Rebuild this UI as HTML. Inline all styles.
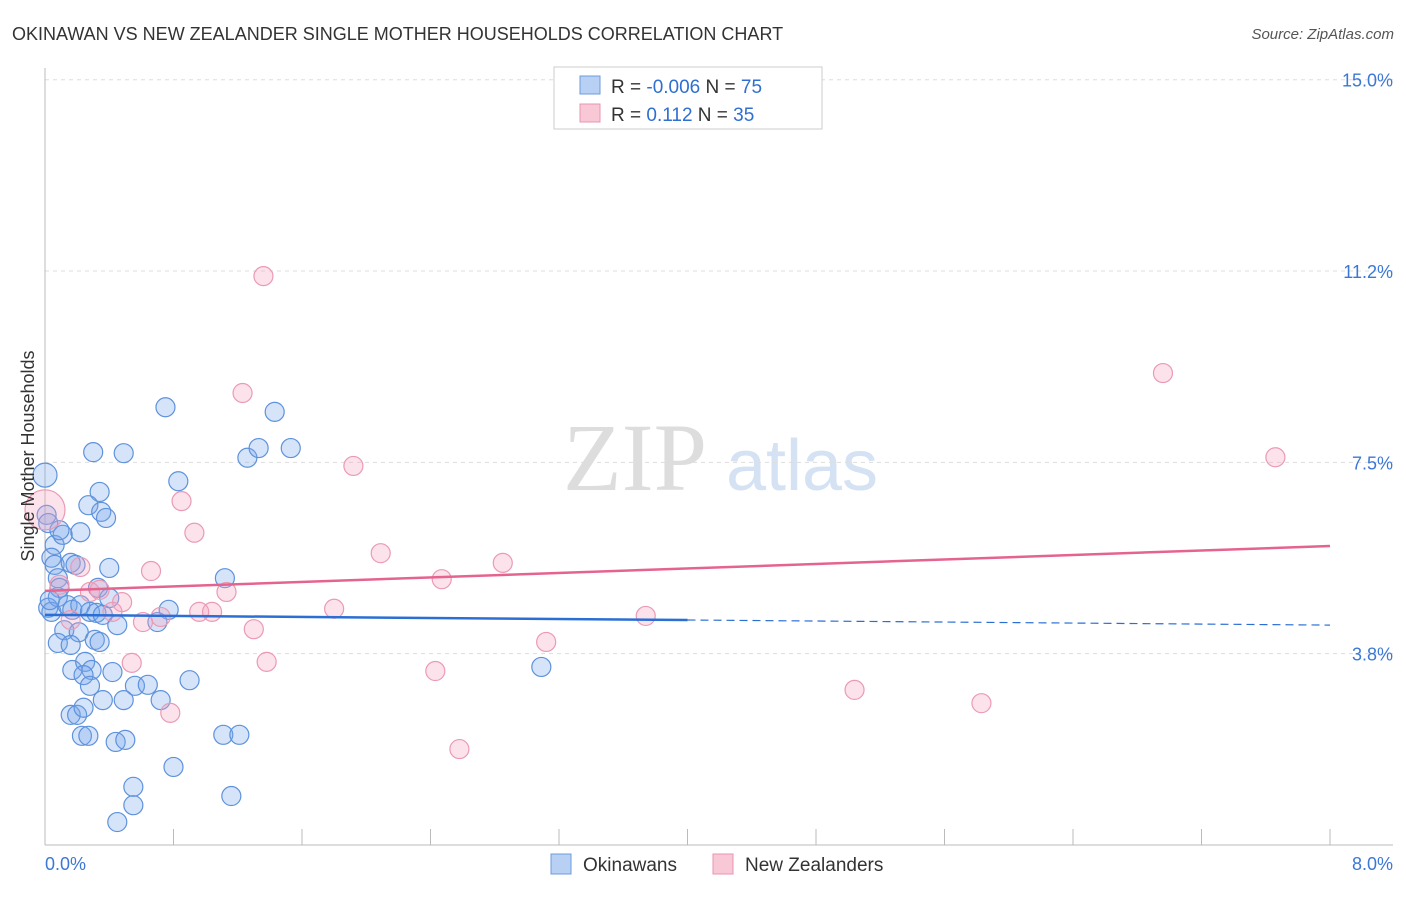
<!DOCTYPE html>
<html><head><meta charset="utf-8"><style>
body{margin:0;background:#fff;font-family:"Liberation Sans",sans-serif;}
svg text{font-family:"Liberation Sans",sans-serif;}
</style></head><body>
<svg id="chart" width="1406" height="892" xmlns="http://www.w3.org/2000/svg">
<text x="12" y="40" font-size="18" fill="#333">OKINAWAN VS NEW ZEALANDER SINGLE MOTHER HOUSEHOLDS CORRELATION CHART</text>
<text x="1394" y="39" font-size="15" fill="#555" font-style="italic" text-anchor="end">Source: ZipAtlas.com</text>
<g>
<text x="635" y="490" font-size="96" fill="#ddd" font-family="Liberation Serif" text-anchor="middle" style="font-family:'Liberation Serif',serif">ZIP</text>
<text x="802" y="490" font-size="72" fill="#d4e2f4" text-anchor="middle">atlas</text>
</g>
<g id="grid"></g>
<g id="axes"></g>
<g id="marks"></g>
<g id="trends"></g>
<text transform="translate(34,456) rotate(-90)" font-size="18" fill="#333" text-anchor="middle">Single Mother Households</text>
<g>
<rect x="554" y="67" width="268" height="62" fill="#fff" stroke="#ccc"/>
<rect x="580" y="76" width="20" height="18" fill="#b7d0f4" stroke="#6c9bdc"/>
<rect x="580" y="104" width="20" height="18" fill="#f9c8d7" stroke="#e993b0"/>
<text x="611" y="93" font-size="19" fill="#333">R = <tspan fill="#2f6fd0">-0.006</tspan>   N = <tspan fill="#2f6fd0">75</tspan></text>
<text x="611" y="121" font-size="19" fill="#333">R =     <tspan fill="#2f6fd0">0.112</tspan>   N = <tspan fill="#2f6fd0">35</tspan></text>
</g>
<g>
<rect x="551" y="854" width="20" height="20" fill="#b7d0f4" stroke="#6c9bdc"/>
<text x="583" y="871" font-size="19" fill="#333">Okinawans</text>
<rect x="713" y="854" width="20" height="20" fill="#f9c8d7" stroke="#e993b0"/>
<text x="745" y="871" font-size="19" fill="#333">New Zealanders</text>
</g>
</svg>
<script>
const yTicks=[3.75,7.5,11.25,15];
const yTickLabels=["3.8%","7.5%","11.2%","15.0%"];
const xTickLabels=["0.0%","8.0%"];
const blueX=[0,0.01,0.02,0.06,0.04,0.06,0.08,0.09,0.11,0.22,0.16,0.19,0.02,0.04,0.08,0.14,0.17,0.22,0.28,0.32,0.36,0.40,0.33,0.12,0.21,0.08,0.16,0.31,0.34,0.17,0.25,0.29,0.24,0.42,0.28,0.56,0.64,0.36,0.49,0.72,0.90,0.16,0.20,0.24,0.23,0.27,0.44,0.50,1.11,1.21,0.80,0.55,0.55,0.45,1.16,0.75,0.30,0.49,1.43,1.26,1.33,1.53,0.83,0.34,0.27,0.35,0.38,1.12,0.77,0.70,0.45,3.09,0.03,0.09,0.40];
const blueY=[7.25,6.47,6.31,5.88,5.63,5.49,5.23,5.04,6.08,6.13,5.53,5.49,4.65,4.57,4.86,4.70,4.61,4.70,4.57,4.55,4.51,5.43,5.04,4.21,4.17,3.96,3.92,4.02,3.98,3.43,3.59,3.43,3.33,3.39,3.12,3.12,3.14,2.84,2.84,2.84,3.23,2.55,2.55,2.69,2.14,2.14,2.02,2.06,2.16,2.16,1.53,1.14,0.78,0.45,0.96,8.58,7.70,7.68,8.49,7.59,7.78,7.78,7.13,6.92,6.66,6.53,6.41,5.23,4.61,4.37,4.31,3.49,4.80,6.17,4.84];
const pinkX=[0,1.36,1.23,1.92,0.85,0.93,2.09,2.85,0.66,0.22,2.47,1.13,0.48,0.28,0.34,0.09,1.80,0.96,1.04,0.72,0.61,1.30,3.74,3.12,1.38,0.54,2.43,5.04,5.83,2.58,0.78,6.96,7.66,0.42,0.16];
const pinkY=[6.57,11.15,8.86,7.43,6.74,6.12,5.72,5.53,5.37,5.45,5.21,4.96,4.76,4.96,5.00,5.10,4.63,4.57,4.57,4.47,4.37,4.23,4.49,3.98,3.59,3.57,3.41,3.04,2.78,1.88,2.59,9.25,7.60,4.57,4.41];
const blueTrend=[4.51,4.31];
const pinkTrend=[4.98,5.86];
const NS="http://www.w3.org/2000/svg";
const X0=45,X1=1330,Y0=845,PPY=51.02;
function xs(v){return X0+v/8*(X1-X0);}
function ys(v){return Y0-v*PPY;}
function mk(t,a,p){const e=document.createElementNS(NS,t);for(const k in a)e.setAttribute(k,a[k]);p.appendChild(e);return e;}
const grid=document.getElementById('grid'),axes=document.getElementById('axes'),marks=document.getElementById('marks'),trends=document.getElementById('trends');
yTicks.forEach((t,i)=>{
 const l=mk('line',{x1:X0,x2:1393,y1:ys(t),y2:ys(t),stroke:'#ddd','stroke-dasharray':'4,4'},grid);
 
 
 const tx=mk('text',{x:1393,y:ys(t)+7,'font-size':18,fill:'#3b78d6','text-anchor':'end'},axes);
 tx.textContent=yTickLabels[i];
 
 
});
mk('line',{x1:X0,x2:X0,y1:68,y2:Y0,stroke:'#bbb'},axes);
mk('line',{x1:X0,x2:1393,y1:Y0,y2:Y0,stroke:'#bbb'},axes);
for(let i=0;i<=10;i++){const v=i*0.8;const t=mk('line',{x1:xs(v),x2:xs(v),y1:Y0,y2:Y0-16,stroke:'#bbb'},axes);
 
 }
[[0,'start',45],[8,'end',1393]].forEach((d,i)=>{const tx=mk('text',{x:d[2],y:870,'font-size':18,fill:'#3b78d6','text-anchor':d[1]},axes);tx.textContent=xTickLabels[i];
 
 });
blueX.forEach((v,i)=>{const c=mk('circle',{cx:xs(v),cy:ys(blueY[i]),r:i==0?12:9.5,fill:'rgba(120,165,235,0.3)',stroke:'#5e92dc','stroke-width':1.2},marks);
 
 });
pinkX.forEach((v,i)=>{const c=mk('circle',{cx:xs(v),cy:ys(pinkY[i]),r:i==0?20:9.5,fill:'rgba(245,160,190,0.3)',stroke:'#eb9ab5','stroke-width':1.2},marks);
 
 });
const bm=blueTrend[0]+(blueTrend[1]-blueTrend[0])*0.5;
let l=mk('line',{x1:xs(0),y1:ys(blueTrend[0]),x2:xs(4),y2:ys(bm),stroke:'#2c6fd4','stroke-width':2.5},trends);


l=mk('line',{x1:xs(4),y1:ys(bm),x2:xs(8),y2:ys(blueTrend[1]),stroke:'#2c6fd4','stroke-width':1.2,'stroke-dasharray':'8,5'},trends);


l=mk('line',{x1:xs(0),y1:ys(pinkTrend[0]),x2:xs(8),y2:ys(pinkTrend[1]),stroke:'#e5648f','stroke-width':2.5},trends);


</script>
</body></html>
